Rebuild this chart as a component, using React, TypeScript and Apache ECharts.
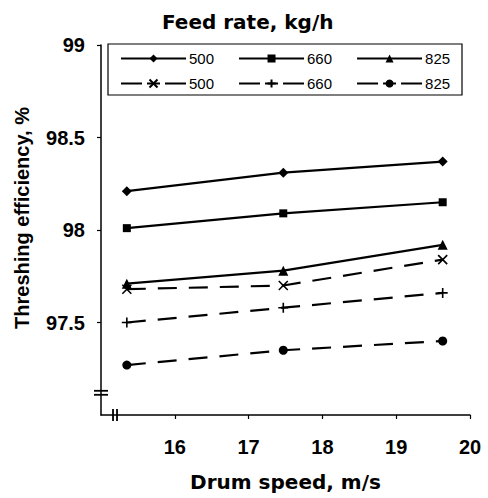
import React, { useEffect, useRef } from "react";
import * as echarts from "echarts";

const drumSpeed = [15.35, 17.47, 19.63];
const legendNames = ["500", "660", "825"];
const solid500 = [98.21, 98.31, 98.37];
const solid660 = [98.01, 98.09, 98.15];
const solid825 = [97.71, 97.78, 97.92];
const dashed500 = [97.68, 97.7, 97.84];
const dashed660 = [97.5, 97.58, 97.66];
const dashed825 = [97.27, 97.35, 97.4];
const xMin = 15;
const xMax = 20;
const xStep = 1;
const yMin = 97;
const yMax = 99;
const yStep = 0.5;
const xBreakAt = 15.19;
const yBreakAt = 97.12;

const FONT = "'Liberation Sans', Arial, Helvetica, sans-serif";
const WIDE = "'DejaVu Sans', Verdana, sans-serif";
const CROSS = "path://M0,0L10,10M0,10L10,0";
const PLUS = "path://M5,0L5,10M0,5L10,5";

export default function App() {
  const ref = useRef<HTMLDivElement>(null);
  useEffect(() => {
    if (!ref.current) return;
    const chart = echarts.init(ref.current, undefined, { renderer: "svg" });
    const mk = (
      id: string,
      vals: number[],
      symbol: string,
      size: number,
      dashed: boolean,
      stroke: boolean
    ) => ({
      type: "line",
      name: id,
      data: drumSpeed.map((x, i) => [x, vals[i]]),
      symbol,
      symbolSize: size,
      showAllSymbol: true,
      lineStyle: { color: "#000", width: 2.2, type: dashed ? [19, 12] : "solid" },
      itemStyle: {
        color: "#000",
        borderColor: "#000",
        borderWidth: stroke ? 1.6 : 0,
        opacity: 1,
      },
      emphasis: { disabled: true },
      z: 3,
    });
    const legendCommon = {
      left: 120,
      itemWidth: 65,
      itemHeight: 10,
      itemGap: 24,
      padding: 0,
      selectedMode: false,
      formatter: (n: string) => n.slice(0, 3),
      textStyle: { fontSize: 15, fontFamily: FONT, color: "#000", padding: [0, 0, 0, -2] },
    };
    chart.setOption({
      animation: false,
      backgroundColor: "#fff",
      title: {
        text: "Feed rate, kg/h",
        left: 157,
        top: 7,
        textStyle: { fontSize: 20, fontWeight: "bold", fontFamily: WIDE, color: "#000" },
      },
      legend: [
        { ...legendCommon, top: 51, data: legendNames.map((n) => n + "a") },
        {
          ...legendCommon,
          top: 76,
          data: legendNames.map((n) => n + "b"),
          lineStyle: { type: [21, 5, 13, 5, 21] },
        },
      ],
      grid: { left: 101, right: 18, top: 45, bottom: 83 },
      xAxis: {
        type: "value",
        min: xMin,
        max: xMax,
        interval: xStep,
        name: "Drum speed, m/s",
        nameLocation: "middle",
        nameGap: 57,
        nameTextStyle: { fontSize: 20, fontWeight: "bold", fontFamily: WIDE, color: "#000" },
        axisLine: { lineStyle: { color: "#000", width: 1.5 } },
        axisTick: { show: true, length: 4, lineStyle: { color: "#000", width: 1.2 } },
        axisLabel: {
          showMinLabel: false,
          margin: 22,
          fontSize: 20,
          fontWeight: "bold",
          fontFamily: FONT,
          color: "#000",
        },
        splitLine: { show: false },
      },
      yAxis: {
        type: "value",
        min: yMin,
        max: yMax,
        interval: yStep,
        axisLine: { show: true, lineStyle: { color: "#000", width: 1.5 } },
        axisTick: { show: true, length: 4, lineStyle: { color: "#000", width: 1.2 } },
        axisLabel: {
          showMinLabel: false,
          margin: 16,
          fontSize: 20,
          fontWeight: "bold",
          fontFamily: FONT,
          color: "#000",
        },
        splitLine: { show: false },
      },
      series: [
        mk("500a", solid500, "diamond", 10, false, false),
        mk("660a", solid660, "rect", 8, false, false),
        mk("825a", solid825, "triangle", 10, false, false),
        mk("500b", dashed500, CROSS, 9, true, true),
        mk("660b", dashed660, PLUS, 10, true, true),
        mk("825b", dashed825, "circle", 9, true, false),
      ],
    });
    const yb = chart.convertToPixel({ gridIndex: 0 }, [xMin, yBreakAt]) as number[];
    const xb = chart.convertToPixel({ gridIndex: 0 }, [xBreakAt, yMin]) as number[];
    const ln = { stroke: "#000", lineWidth: 1.8 };
    chart.setOption({
      graphic: [
        {
          type: "rect",
          shape: { x: 108, y: 44, width: 354, height: 51 },
          style: { fill: "none", stroke: "#000", lineWidth: 1.2 },
        },
        {
          type: "text",
          x: 22,
          y: 218,
          rotation: Math.PI / 2,
          style: {
            text: "Threshing efficiency, %",
            font: `bold 20px ${FONT}`,
            fill: "#000",
            align: "center",
            verticalAlign: "middle",
          },
        },
        { type: "line", shape: { x1: yb[0] - 7, y1: yb[1] - 2, x2: yb[0] + 7, y2: yb[1] - 2 }, style: ln },
        { type: "line", shape: { x1: yb[0] - 7, y1: yb[1] + 2, x2: yb[0] + 7, y2: yb[1] + 2 }, style: ln },
        { type: "line", shape: { x1: xb[0] - 2, y1: xb[1] - 6, x2: xb[0] - 2, y2: xb[1] + 6 }, style: ln },
        { type: "line", shape: { x1: xb[0] + 2, y1: xb[1] - 6, x2: xb[0] + 2, y2: xb[1] + 6 }, style: ln },
      ],
    });
    return () => chart.dispose();
  }, []);
  return (
    <div
      ref={ref}
      style={{ position: "fixed", left: 0, top: 0, width: 488, height: 498, background: "#fff" }}
    />
  );
}
